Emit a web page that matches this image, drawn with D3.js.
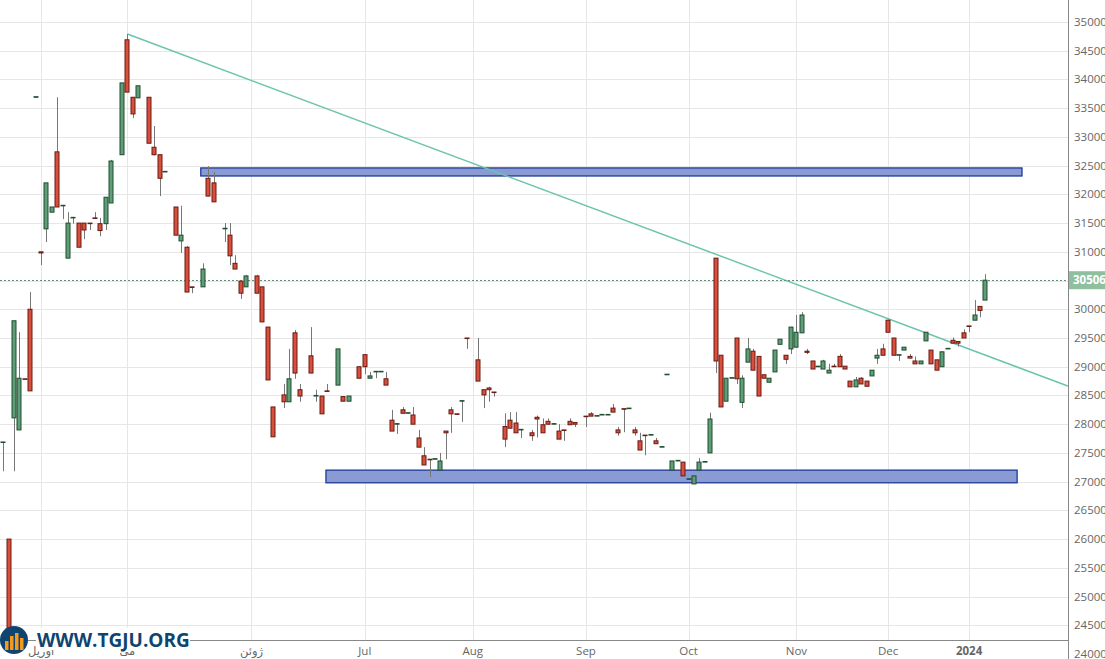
<!doctype html>
<html lang="en">
<head>
<meta charset="utf-8">
<script src="https://d3js.org/d3.v7.min.js"></script>
<style>
  body { margin: 0; background: #fff; }
  text { font-family: "Open Sans", "DejaVu Sans", sans-serif; }
</style>
</head>
<body>
<div id="chart"></div>
<script>
// candles: [session, open, high, low, close]
var candles = [
  [0,27690,27690,27180,27690],[1,26000,26000,24200,24200],[2,28110,29800,27180,29800],
  [3,27900,29600,27900,28800],[4,28790,28790,28790,28780],[5,30000,30300,28580,28580],
  [6,33690,33690,33690,33700],[7,31000,31000,30770,30980],[8,31400,32200,31170,32200],
  [9,31690,31780,31690,31780],[10,32740,33690,31780,31780],[11,31800,31800,31570,31810],
  [12,30890,31690,30890,31500],[13,31590,31590,31490,31600],[14,31500,31500,31080,31080],
  [15,31500,31500,31220,31380],[16,31500,31500,31380,31490],[17,31590,31690,31590,31580],
  [18,31490,31590,31270,31370],[19,31490,31950,31380,31950],[20,31850,32600,31850,32580],
  [22,32690,33940,32690,33940],[23,34690,34790,33780,33780],[24,33690,33690,33330,33400],
  [25,33680,33890,33680,33890],[27,33690,33690,32890,32890],[28,32820,33190,32680,32690],
  [29,32690,32690,31970,32280],[30,32390,32390,32390,32400],[32,31780,31780,31290,31290],
  [33,31190,31800,30980,31290],[34,31080,31100,30300,30300],[35,30390,30390,30280,30380],
  [37,30390,30800,30390,30700],[38,32280,32490,31970,31970],[39,32200,32390,31870,31870],
  [41,31400,31500,31170,31410],[42,31290,31500,30770,30930],[43,30800,30940,30700,30700],
  [44,30490,30490,30180,30280],[45,30390,30600,30390,30580],[47,30580,30600,30280,30280],
  [48,30390,30390,29780,29780],[49,29690,29690,28770,28770],[50,28300,28300,27780,27780],
  [52,28510,28700,28280,28390],[53,28390,29310,28390,28790],[54,29590,29640,28790,28890],
  [55,28600,28700,28390,28490],[57,29190,29690,28890,28890],[58,28490,28600,28390,28500],
  [59,28490,28490,28180,28180],[60,28580,28700,28580,28570],[62,28680,29310,28680,29310],
  [63,28480,28480,28400,28400],[64,28400,28490,28400,28490],[66,29000,29000,28800,28800],
  [67,29210,29210,28870,29000],[68,28800,28910,28800,28840],[69,28910,28910,28800,28920],
  [70,28910,28910,28910,28920],[71,28790,28910,28680,28680],[72,28070,28250,27880,27880],
  [73,28000,28000,27830,28010],[74,28250,28300,28190,28190],[75,28190,28190,28190,28200],
  [76,28160,28300,28000,28000],[77,27760,27900,27600,27600],[78,27450,27600,27290,27290],
  [79,27390,27390,27080,27380],[80,27390,27390,27390,27400],[81,27200,27500,27200,27360],
  [82,27880,27880,27390,27850],[83,28250,28300,27850,28180],[84,28180,28180,28180,28170],
  [85,28400,28400,28040,28410],[86,29500,29500,29310,29490],[88,29120,29500,28750,28750],
  [89,28600,28600,28280,28510],[90,28630,28650,28390,28600],[91,28560,28560,28480,28550],
  [93,27960,28190,27600,27740],[94,28070,28210,27930,27930],[95,28020,28210,27850,27850],
  [96,27900,27900,27760,27910],[98,27850,27900,27710,27800],[99,28120,28150,27770,28090],
  [100,27990,28100,27850,27850],[101,28050,28100,27990,28000],[102,28000,28000,28000,28010],
  [103,27880,28000,27740,27740],[104,27900,27900,27710,27890],[105,28050,28100,27990,27990],
  [106,28030,28030,27950,28000],[108,28140,28140,27950,28130],[109,28180,28210,28140,28140],
  [110,28140,28140,28140,28150],[111,28160,28160,28160,28170],[112,28160,28160,28160,28170],
  [113,28280,28350,28210,28210],[114,27900,27950,27800,27850],[115,28270,28270,27860,28260],
  [116,28270,28270,28270,28280],[117,27900,27950,27800,27850],[118,27710,27850,27550,27550],
  [119,27810,27810,27460,27800],[120,27810,27810,27810,27820],[121,27710,27760,27660,27660],
  [122,27600,27600,27600,27610],[123,28860,28860,28860,28870],[124,27200,27360,27200,27360],
  [125,27360,27360,27360,27370],[126,27340,27340,27100,27100],[127,27040,27040,27040,27050],
  [128,26960,27100,26960,27100],[129,27200,27410,27200,27340],[130,27340,27340,27340,27350],
  [131,27500,28200,27500,28090],[132,30890,30890,28890,29100],[133,29200,29200,28300,28300],
  [134,28400,28800,28400,28800],[135,28800,28800,28800,28810],[136,29500,29500,28700,28790],
  [137,28380,28850,28280,28800],[138,29080,29500,29080,29310],[139,29270,29310,28940,28940],
  [140,29180,29180,28490,28490],[141,28860,28860,28800,28800],[142,28730,28800,28730,28800],
  [143,28910,29290,28910,29290],[144,29390,29480,29390,29480],[145,29200,29200,29050,29130],
  [146,29310,29690,29220,29690],[147,29340,29900,29340,29600],[148,29590,29950,29590,29900],
  [149,29270,29310,29220,29250],[150,29100,29100,28960,28960],[151,29000,29010,29000,29010],
  [152,28960,29120,28960,29100],[153,28890,29050,28890,28940],[154,29010,29050,29000,29000],
  [155,29180,29220,29000,29000],[156,29010,29010,28960,28960],[157,28750,28750,28650,28650],
  [158,28650,28820,28650,28770],[159,28800,28820,28700,28700],[160,28750,28750,28660,28660],
  [161,28840,28940,28840,28940],[162,29150,29310,29050,29200],[163,29310,29400,29200,29200],
  [164,29810,29810,29600,29600],[165,29500,29500,29200,29200],[166,29200,29200,29100,29210],
  [167,29290,29340,29290,29340],[168,29180,29220,29150,29150],[169,29100,29180,29050,29050],
  [170,29050,29100,29050,29100],[171,29450,29600,29450,29600],[172,29290,29290,29050,29050],
  [173,29120,29120,28940,28940],[174,29000,29260,29000,29260],[175,29310,29310,29310,29320],
  [176,29460,29510,29410,29410],[177,29440,29440,29350,29410],[178,29590,29650,29500,29500],
  [179,29710,29710,29600,29700],[180,29810,30160,29810,29900],[181,30050,30050,29860,29980],
  [182,30160,30610,30160,30506]
];

var tickSessions = [7, 23, 46, 67, 87, 108, 127, 147, 164, 179];
var tickLabels = ["آوریل", "می", "ژوئن", "Jul", "Aug", "Sep", "Oct", "Nov", "Dec", "2024"];
var priceTicks = d3.range(24000, 35001, 500);
var lastPrice = 30506;
// trend line [session, price]
var trendLine = [[23, 34790], [197.3, 28664]];
// zones [fromSession, toSession, low, high]
var zones = [[36.6, 188.8, 32320, 32460], [59.8, 187.9, 26980, 27200]];

var width = 1105, height = 659;
var plotRight = 1068, plotBottom = 640;

var svg = d3.select("#chart").append("svg")
  .attr("width", width).attr("height", height);

var x = d3.scaleLinear().domain([0, 182]).range([3.3, 985.3]);
var y = d3.scaleLinear().domain([24000, 35000]).range([654, 22]);

svg.append("defs").append("clipPath").attr("id", "plot")
  .append("rect").attr("x", 0).attr("y", 0).attr("width", plotRight).attr("height", plotBottom);

var plot = svg.append("g").attr("clip-path", "url(#plot)");

// grid
plot.selectAll(".hg").data(priceTicks).join("line")
  .attr("x1", 0).attr("x2", plotRight)
  .attr("y1", d => Math.round(y(d)) + 0.5).attr("y2", d => Math.round(y(d)) + 0.5)
  .attr("stroke", "#e6e6e6");
plot.selectAll(".vg").data(tickSessions).join("line")
  .attr("x1", d => Math.round(x(d)) + 0.5).attr("x2", d => Math.round(x(d)) + 0.5)
  .attr("y1", 0).attr("y2", plotBottom)
  .attr("stroke", "#e6e6e6");

// zones
plot.selectAll(".zone").data(zones).join("rect")
  .attr("x", d => x(d[0])).attr("width", d => x(d[1]) - x(d[0]))
  .attr("y", d => y(d[3])).attr("height", d => y(d[2]) - y(d[3]))
  .attr("fill", "#8a9bd3").attr("stroke", "#1c3a9a").attr("stroke-width", 1.3);

// trend line
plot.append("line")
  .attr("x1", x(trendLine[0][0])).attr("y1", y(trendLine[0][1]))
  .attr("x2", x(trendLine[1][0])).attr("y2", y(trendLine[1][1]))
  .attr("stroke", "#6cc4ac").attr("stroke-width", 1.5);

// last price line
plot.append("line")
  .attr("x1", 0).attr("x2", plotRight)
  .attr("y1", Math.round(y(lastPrice)) + 0.5).attr("y2", Math.round(y(lastPrice)) + 0.5)
  .attr("stroke", "#5f8f78").attr("stroke-dasharray", "2,2");

// candles
var up = d => d[4] >= d[1];
var g = plot.selectAll(".candle").data(candles).join("g");
g.append("line")
  .attr("x1", d => Math.round(x(d[0])) + 0.5).attr("x2", d => Math.round(x(d[0])) + 0.5)
  .attr("y1", d => y(Math.max(d[2], d[1], d[4]))).attr("y2", d => y(Math.min(d[3], d[1], d[4])))
  .attr("stroke", "#777");
g.append("rect")
  .attr("x", d => Math.round(x(d[0])) - 2)
  .attr("width", 4)
  .attr("y", d => y(Math.max(d[1], d[4])))
  .attr("height", d => Math.max(0.5, y(Math.min(d[1], d[4])) - y(Math.max(d[1], d[4]))))
  .attr("fill", d => up(d) ? "#5f9e76" : "#d94f3d")
  .attr("stroke", d => up(d) ? "#1e4d30" : "#6a1a12")
  .attr("stroke-width", 1);

// y axis
svg.append("line").attr("x1", plotRight + 0.5).attr("x2", plotRight + 0.5)
  .attr("y1", 0).attr("y2", height).attr("stroke", "#888");
svg.selectAll(".yl").data(priceTicks).join("text")
  .attr("x", plotRight + 6).attr("y", d => y(d) + 4)
  .attr("font-size", 11.5).attr("fill", "#666")
  .text(d => d);

// x axis
svg.append("line").attr("x1", 0).attr("x2", plotRight)
  .attr("y1", plotBottom + 0.5).attr("y2", plotBottom + 0.5).attr("stroke", "#888");
svg.selectAll(".xl").data(tickSessions).join("text")
  .attr("x", d => x(d)).attr("y", 655)
  .attr("text-anchor", "middle").attr("font-size", 11.5)
  .attr("font-weight", (d, i) => tickLabels[i] === "2024" ? "bold" : "normal")
  .attr("fill", "#666")
  .text((d, i) => tickLabels[i]);

// last price badge
svg.append("rect").attr("x", plotRight + 1).attr("y", y(lastPrice) - 9)
  .attr("width", 37).attr("height", 18).attr("fill", "#8fbf9f");
svg.append("text").attr("x", plotRight + 5).attr("y", y(lastPrice) + 4)
  .attr("font-size", 11.5).attr("font-weight", "bold").attr("fill", "#fff")
  .text(lastPrice);

// logo
var logo = svg.append("g");
logo.append("rect").attr("x", 36).attr("y", 628).attr("width", 154).attr("height", 22).attr("fill", "#fff");
logo.append("circle").attr("cx", 14).attr("cy", 640).attr("r", 14).attr("fill", "#0f4470");
[[5, 9], [10, 14], [15, 17], [20, 12]].forEach(function (b) {
  logo.append("rect").attr("x", b[0]).attr("y", 650 - b[1]).attr("width", 3.5).attr("height", b[1]).attr("fill", "#f29a1f");
});
logo.append("text").attr("x", 37).attr("y", 647)
  .attr("font-family", "Liberation Sans, Arial, sans-serif")
  .attr("font-size", 19).attr("font-weight", "bold").attr("fill", "#0f4470")
  .text("WWW.TGJU.ORG");
</script>
</body>
</html>
